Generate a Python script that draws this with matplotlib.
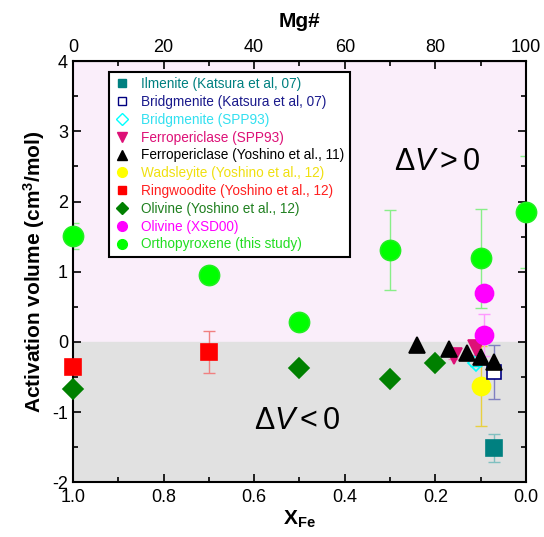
import numpy as np
import matplotlib
matplotlib.use('Agg')
import matplotlib.pyplot as plt
from matplotlib.lines import Line2D

plt.rcParams['font.family'] = ['Liberation Sans', 'DejaVu Sans']
plt.rcParams['mathtext.fontset'] = 'custom'
plt.rcParams['mathtext.rm'] = 'Liberation Sans'
plt.rcParams['mathtext.it'] = 'Liberation Sans:italic'
plt.rcParams['mathtext.bf'] = 'Liberation Sans:bold'
plt.rcParams['axes.unicode_minus'] = False

# activation volumes vs iron content, one set of lists per study
ilm_x, ilm_y, ilm_err = [0.07], [-1.51], [0.2]
brg_k_x, brg_k_y, brg_k_err = [0.07], [-0.43], [0.38]
brg_s_x, brg_s_y, brg_s_err = [0.11], [-0.30], [0.05]
fp_s_x, fp_s_y, fp_s_err = [0.16, 0.11], [-0.20, -0.09], [0.05, 0.1]
fp_y_x = [0.24, 0.17, 0.13, 0.10, 0.07]
fp_y_y = [-0.05, -0.10, -0.16, -0.22, -0.28]
wad_x, wad_y, wad_err = [0.10], [-0.63], [0.57]
rw_x, rw_y, rw_err = [1.0, 0.7], [-0.36, -0.15], [0.0, 0.3]
ol_y_x = [1.0, 0.5, 0.3, 0.2]
ol_y_y = [-0.67, -0.37, -0.53, -0.30]
ol_x_x, ol_x_y, ol_x_err = [0.093, 0.093], [0.69, 0.10], [0.0, 0.3]
opx_x = [1.0, 0.7, 0.5, 0.3, 0.1, 0.0]
opx_y = [1.51, 0.96, 0.28, 1.31, 1.19, 1.85]
opx_err = [0.19, 0.0, 0.0, 0.57, 0.7, 0.8]

labels = ['Ilmenite (Katsura et al, 07)', 'Bridgmenite (Katsura et al, 07)',
          'Bridgmenite (SPP93)', 'Ferropericlase (SPP93)',
          'Ferropericlase (Yoshino et al., 11)', 'Wadsleyite (Yoshino et al., 12)',
          'Ringwoodite (Yoshino et al., 12)', 'Olivine (Yoshino et al., 12)',
          'Olivine (XSD00)', 'Orthopyroxene (this study)']

fig = plt.figure(figsize=(5.44, 5.37), dpi=100)
ax = fig.add_axes([0.134, 0.102, 0.833, 0.784])
ax.set_xlim(1.0, 0.0)
ax.set_ylim(-2, 4)

ax.axhspan(0, 4, color='#FAEEFA', zorder=0)
ax.axhspan(-2, 0, color='#E1E1E1', zorder=0)


def series(x, y, err, marker, ms, fc, ec, errc, z=3):
    if err is not None:
        ax.errorbar(x, y, yerr=err, fmt='none', ecolor=errc, elinewidth=1,
                    capsize=4, capthick=1, zorder=z - 0.5)
    ax.plot(x, y, linestyle='none', marker=marker, ms=ms, mfc=fc, mec=ec,
            mew=1.2, zorder=z, clip_on=False)


series(opx_x, opx_y, opx_err, 'o', 14.5, '#00FF00', '#22EE22', '#88EE88', 3)
series(rw_x, rw_y, rw_err, 's', 12, '#FF0000', '#FF0000', '#F08080', 3)
series(ol_y_x, ol_y_y, None, 'D', 10, '#008000', '#008000', None, 3)
series(ilm_x, ilm_y, ilm_err, 's', 11, '#008080', '#008080', '#80C0C0', 3)
series(wad_x, wad_y, wad_err, 'o', 13, '#FFFF00', '#FFFF00', '#E8D040', 3)
series(brg_k_x, brg_k_y, brg_k_err, 's', 10, 'white', '#000080', '#8080C0', 4)
series(brg_s_x, brg_s_y, brg_s_err, 'D', 8, 'none', '#00FFFF', '#00E0E0', 4)
series(fp_s_x, fp_s_y, fp_s_err, 'v', 11, '#DD1177', '#DD1177', '#EE88BB', 4)
series(fp_y_x, fp_y_y, None, '^', 11, 'black', 'black', None, 5)
series(ol_x_x, ol_x_y, ol_x_err, 'o', 13, '#FF00FF', '#FF00FF', '#FF99FF', 5)

ax.text(0.195, 2.57, r'$\Delta V > 0$', fontsize=22, ha='center', va='center')
ax.text(0.505, -1.13, r'$\Delta V < 0$', fontsize=22, ha='center', va='center')

# legend with small symbols
handles = [
    Line2D([], [], ls='none', marker='s', ms=6, mfc='#008080', mec='#008080'),
    Line2D([], [], ls='none', marker='s', ms=6, mfc='white', mec='#000080'),
    Line2D([], [], ls='none', marker='D', ms=6, mfc='none', mec='#00FFFF'),
    Line2D([], [], ls='none', marker='v', ms=7, mfc='#DD1177', mec='#DD1177'),
    Line2D([], [], ls='none', marker='^', ms=7, mfc='black', mec='black'),
    Line2D([], [], ls='none', marker='o', ms=7, mfc='#FFFF00', mec='#FFFF00'),
    Line2D([], [], ls='none', marker='s', ms=6, mfc='#FF0000', mec='#FF0000'),
    Line2D([], [], ls='none', marker='D', ms=6, mfc='#008000', mec='#008000'),
    Line2D([], [], ls='none', marker='o', ms=7, mfc='#FF00FF', mec='#FF00FF'),
    Line2D([], [], ls='none', marker='o', ms=7, mfc='#00FF00', mec='#00FF00'),
]
text_colors = ['#008080', '#1A1A8C', '#33E0F0', '#DD1177', 'black',
               '#F0E010', '#FF2020', '#208020', '#FF00FF', '#22DD22']
leg = ax.legend(handles, labels, loc='upper left', bbox_to_anchor=(0.079, 0.975),
                fontsize=9.8, frameon=True, fancybox=False, framealpha=1,
                edgecolor='black', borderpad=0.4, labelspacing=0.28,
                handletextpad=0.8, handlelength=1.2, borderaxespad=0)
leg.get_frame().set_linewidth(1.5)
leg.set_zorder(6)
for t, c in zip(leg.get_texts(), text_colors):
    t.set_color(c)

ax.set_xticks(np.arange(0, 1.01, 0.2))
ax.set_xticks(np.arange(0.1, 1.0, 0.2), minor=True)
ax.set_xticklabels(['0.0', '0.2', '0.4', '0.6', '0.8', '1.0'])
ax.set_yticks(range(-2, 5))
ax.set_yticks(np.arange(-1.5, 4, 1.0), minor=True)
ax.tick_params(which='both', direction='in', right=True, labelsize=13, width=1.2)
ax.tick_params(which='major', length=6)
ax.tick_params(which='minor', length=3.5)
ax.tick_params(axis='x', which='both', top=False, pad=5)
for s in ax.spines.values():
    s.set_linewidth(1.5)

ax.set_xlabel(r'$\mathbf{X_{Fe}}$', fontsize=15, labelpad=2)
ax.set_ylabel(r'Activation volume (cm$^\mathbf{3}$/mol)', fontsize=15,
              fontweight='bold', labelpad=4)

# Mg# on the top axis
top = ax.secondary_xaxis('top', functions=(lambda v: 100 * (1 - v), lambda m: 1 - m / 100))
top.set_xticks([0, 20, 40, 60, 80, 100])
top.set_xticks([10, 30, 50, 70, 90], minor=True)
top.tick_params(which='both', direction='in', labelsize=13, width=1.2)
top.tick_params(which='major', length=6)
top.tick_params(which='minor', length=3.5)
top.set_xlabel('Mg#', fontsize=15, fontweight='bold', labelpad=9)

fig.savefig('out.png', dpi=100)
